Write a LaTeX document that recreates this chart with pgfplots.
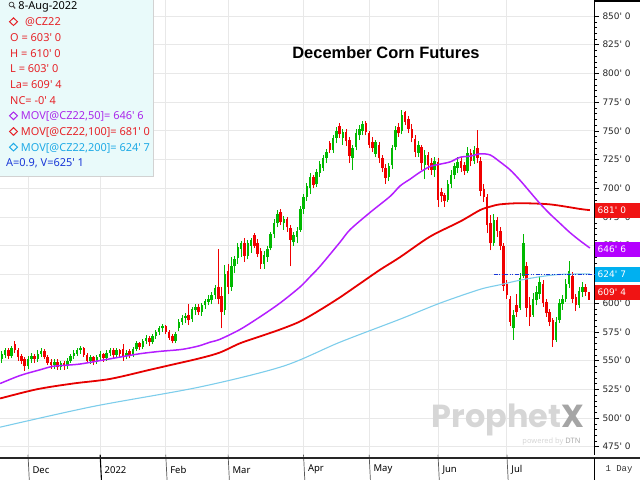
\documentclass[border=0pt]{standalone}
\usepackage{pgfplots}
\usepackage{pgfplotstable}
\pgfplotsset{compat=1.18}
\usepackage{fontspec}
\setmainfont{Noto Sans}
\newfontfamily\dejavu{DejaVu Sans}
\newfontfamily\mono{Liberation Mono}
\newfontfamily\logo{Poppins}
\newfontfamily\titlefont{Liberation Sans}

\definecolor{upc}{RGB}{0,185,0}
\definecolor{dnc}{RGB}{240,0,0}
\definecolor{maA}{RGB}{180,30,255}
\definecolor{maB}{RGB}{230,0,0}
\definecolor{maC}{RGB}{125,205,235}
\definecolor{legbg}{RGB}{233,250,250}
\definecolor{txtred}{RGB}{230,35,40}
\definecolor{txtmag}{RGB}{170,40,235}
\definecolor{txtcyan}{RGB}{30,170,230}
\definecolor{txtblue}{RGB}{25,55,215}
\definecolor{boxred}{RGB}{240,20,20}
\definecolor{boxmag}{RGB}{180,0,255}
\definecolor{boxcyan}{RGB}{0,176,240}
\definecolor{gridc}{RGB}{232,232,232}
\definecolor{wmgray}{RGB}{214,214,214}
\definecolor{wmdark}{RGB}{165,165,165}

\newcommand\q{\textquotesingle}

% daily candles, x = trading day (0 = 1 Dec 2021)
\pgfplotstableread{
d o h l c
-8 551 558 548 556
-7 555 561 552 559
-5 554 563 552 561
0 545 554 543 551
1 551 557 548 554
3 551 559 549 556
4 556 561 553 558
8 546 551 543 549
10 544 550 542 548
12 545 552 543 550
13 550 556 548 554
14 554 559 551 557
15 556 561 554 559
16 559 563 556 561
19 550 555 547 553
21 549 555 547 553
22 553 558 550 556
24 552 559 550 557
25 557 561 554 559
27 555 561 553 559
30 554 559 551 557
32 555 562 553 560
33 560 567 558 565
35 562 569 560 567
36 567 572 564 570
38 566 573 564 571
39 571 577 569 575
40 575 580 572 578
41 578 582 575 580
45 567 575 565 573
46 578 586 576 584
47 584 590 581 587
48 587 591 583 589
50 586 597 584 595
51 594 599 590 597
53 592 600 589 598
54 598 604 595 602
55 601 607 598 604
56 603 610 599 607
57 607 616 604 613
60 594 633 590 625
62 614 640 611 632
63 632 641 626 638
64 639 652 634 649
65 647 654 640 652
67 641 655 638 652
68 650 657 644 655
72 634 645 630 642
73 640 650 636 647
74 648 662 646 660
75 660 673 657 670
76 670 681 666 678
78 670 676 664 673
81 653 662 650 659
82 658 666 652 663
83 664 685 662 682
84 682 695 678 692
85 692 705 689 702
86 700 713 695 710
88 704 717 701 714
89 713 724 710 721
90 718 729 715 726
91 726 734 722 732
93 733 746 731 744
94 744 753 739 750
96 744 752 738 749
99 726 738 716 735
100 736 752 733 748
101 746 755 742 752
102 750 759 746 756
106 730 742 727 740
110 710 722 706 719
111 720 738 717 735
112 736 754 733 751
114 750 768 747 764
119 731 741 727 738
121 720 733 708 729
124 716 727 710 724
128 690 707 688 704
129 704 716 700 712
130 712 722 708 719
131 718 727 713 723
134 715 736 713 731
136 724 737 721 733
142 652 678 650 672
148 578 594 568 590
150 596 626 594 622
151 624 660 622 652
154 590 609 588 604
155 603 615 598 610
156 608 624 604 618
161 568 588 566 584
162 585 604 583 600
163 599 607 594 604
164 604 621 601 617
165 617 637 613 628
168 598 614 596 611
169 610 618 605 614
}\up

\pgfplotstableread{
d o h l c
-6 559 561 551 554
-4 564 567 557 559
-3 559 561 550 553
-2 554 556 547 550
-1 551 553 541 545
2 554 556 548 551
5 558 560 551 553
6 553 555 546 548
7 549 551 543 546
9 549 551 542 544
11 548 550 542 545
17 561 562 553 555
18 555 557 548 550
20 553 554 546 549
23 556 557 549 552
26 559 561 552 555
28 559 560 553 556
29 560 564 550 554
31 558 560 552 555
34 565 566 559 562
37 570 571 563 566
42 580 581 573 575
43 575 577 568 570
44 571 573 565 567
49 590 599 581 585
52 597 599 590 592
58 614 647 599 604
59 606 614 578 592
61 628 634 608 614
66 652 657 636 641
69 659 661 648 650
70 652 656 640 643
71 645 648 630 634
77 679 682 668 671
79 673 675 662 666
80 665 668 632 655
87 710 712 700 703
92 739 741 731 733
95 754 757 744 747
97 749 752 737 741
98 742 745 722 728
103 757 759 746 749
104 748 750 735 738
105 740 745 732 735
107 738 740 722 726
108 726 729 714 718
109 718 721 704 709
113 753 757 745 748
115 766 767 755 758
116 760 763 748 752
117 752 756 740 744
118 743 746 727 732
120 736 738 716 722
122 729 732 716 720
123 722 726 712 716
125 723 726 684 690
126 697 700 688 693
127 694 696 684 689
132 724 727 714 718
133 720 723 712 715
135 731 734 719 724
137 735 751 722 726
138 724 727 693 698
139 699 704 688 692
140 692 695 661 668
141 670 677 646 652
143 672 675 658 663
144 663 666 646 650
145 650 652 611 615
146 617 620 604 607
147 604 606 580 584
149 598 608 588 592
152 632 636 588 596
153 598 605 580 588
157 617 620 597 600
158 601 604 588 591
159 592 595 580 584
160 585 587 562 568
166 624 627 600 604
167 605 608 593 598
170 614 617 606 610
171 603 610 603 609.5
}\down

% moving averages
\pgfplotstableread{
d v
-8.5 530
-2.4 537
3.7 542
7.6 545
11.9 546
15.9 547
22 550
28 553
34.2 556
40.2 558
46.3 559.5
49.4 561
52.4 563
55.5 566
58.5 568.5
64.6 577
70.7 588
76.8 600
82.9 614
86 623
89 632
95.1 653
98.2 664
104.3 679
110.4 693
113.4 702
116.5 708
119.5 714
122.6 719
125.6 721
128.7 723
131.7 727
134.8 728
137.8 730
140.9 729
143.9 723
147 716
150 707
153 697
156 687
159 678
162 670
165 662
168 655
171.3 648
}\movA

\pgfplotstableread{
d v
-8.5 517
2.7 525
13.7 530
25 534
37.2 542
43.3 546
52.4 552
58.5 557
64.6 565
70.7 571
76.8 577
82.9 584
89 594
95.1 605
101.2 617
107.3 629
113.4 640
122.6 658
131.7 671
137.8 681
140.9 684
143.9 686
150 687
159.1 686
168.3 682
171.3 681
}\movB

\pgfplotstableread{
d v
-8.5 492
19.8 510
52.4 527
77.7 545
95.1 566
113.4 586
125.6 600
137.8 612
143.9 616
150 620
156.1 623
162.2 625
171.3 625.5
}\movC

\begin{document}
\begin{tikzpicture}[x=1bp,y=1bp]
\useasboundingbox (0,0) rectangle (640,480);
\begin{axis}[
  at={(0,22)}, anchor=south west,
  width=594bp, height=458bp, scale only axis,
  xmin=-8.54, xmax=172.56, ymin=468, ymax=866.8,
  clip=false,
  axis x line*=bottom, axis y line*=right,
  x axis line style={draw=none},
  y axis line style={-, black, line width=0.7bp},
  xtick={0,22,42,61,84,104,125,146},
  xticklabels={Dec,2022,Feb,Mar,Apr,May,Jun,Jul},
  xtick style={draw=none},
  xticklabel style={anchor=west, font=\fontsize{9.5}{11}\selectfont, xshift=1bp, yshift=-10bp},
  ytick={475,500,...,850},
  minor y tick num=4,
  yticklabel={\pgfmathprintnumber[fixed,precision=0,assume math mode=true]{\tick}\q\ 0},
  yticklabel style={font=\dejavu\fontsize{9}{10}\selectfont, text=black!85},
  tick align=outside,
  major tick length=5bp, minor tick length=3bp,
  ytick style={black, line width=0.6bp},
  minor y tick style={black, line width=0.4bp},
  grid=major,
  major grid style={gridc, line width=0.8bp},
  candle/.style={draw=none, mark=none, forget plot,
    error bars/y dir=plus, error bars/y explicit, error bars/error mark=none},
]
% wicks and bodies
\addplot[candle, error bars/error bar style={draw=upc, line width=0.9bp}]
  table[x=d, y=l, y error plus expr=\thisrow{h}-\thisrow{l}] {\up};
\addplot[candle, error bars/error bar style={draw=upc, line width=2.5bp}]
  table[x=d, y expr={min(\thisrow{o},\thisrow{c})}, y error plus expr={max(abs(\thisrow{c}-\thisrow{o}),0.8)}] {\up};
\addplot[candle, error bars/error bar style={draw=dnc, line width=0.9bp}]
  table[x=d, y=l, y error plus expr=\thisrow{h}-\thisrow{l}] {\down};
\addplot[candle, error bars/error bar style={draw=dnc, line width=2.5bp}]
  table[x=d, y expr={min(\thisrow{o},\thisrow{c})}, y error plus expr={max(abs(\thisrow{c}-\thisrow{o}),0.8)}] {\down};

\addplot[maC, line width=1.1bp, smooth] table[x=d, y=v] {\movC};
\addplot[maB, line width=1.8bp, smooth] table[x=d, y=v] {\movB};
\addplot[maA, line width=1.5bp, smooth] table[x=d, y=v] {\movA};
\addplot[txtblue, line width=1.1bp, dash pattern=on 4bp off 1.5bp on 1bp off 1.5bp on 1bp off 1.5bp]
  coordinates {(142,625.1) (172.56,625.1)};

\pgfplotsinvokeforeach{0,42,61,84,104,125,146}{
  \draw[black!65, line width=0.7bp] (axis cs:#1,468) -- ++(0,-22bp);}
\draw[black, line width=1.1bp] (axis cs:22,468) -- ++(0,-22bp);

\coordinate (v681) at (axis cs:172.56,681);
\coordinate (v646) at (axis cs:172.56,646.75);
\coordinate (v624) at (axis cs:172.56,624.875);
\coordinate (v609) at (axis cs:172.56,609.5);
\end{axis}

% frame pieces
\draw[black!85, line width=2bp] (0,22) -- (640,22);
\draw[black, line width=0.7bp] (594,0) -- (594,22);
\draw[black, line width=2.5bp] (594,478.75) -- (640,478.75);
\node[anchor=west, font=\mono\fontsize{9}{10}\selectfont, text=black!80] at (602,10.5) {1 Day};

% last-value boxes
\tikzset{vbox/.style={anchor=west, text=white, inner xsep=2.5bp, inner ysep=0pt,
  minimum height=15bp, text width=40bp, align=left, font=\dejavu\fontsize{9}{10}\selectfont}}
\node[vbox, fill=boxred] at ([xshift=1bp]v681) {681\q\ 0};
\node[vbox, fill=boxmag] at ([xshift=1bp]v646) {646\q\ 6};
\node[vbox, fill=boxcyan] at ([xshift=1bp]v624) {624\q\ 7};
\node[vbox, fill=boxred] at ([xshift=1bp]v609) {609\q\ 4};

% title
\node[font=\titlefont\bfseries\fontsize{16.5}{19}\selectfont] at (386,427) {December Corn Futures};

% watermark
\node[anchor=base] at (508,52) {\logo\bfseries\fontsize{32}{32}\selectfont\textcolor{wmgray}{Prophet}\textcolor{wmdark}{X}};
\node[anchor=base east, font=\fontsize{7.5}{8}\selectfont] at (584,36) {\textcolor{wmgray}{powered by }\textcolor{wmgray!80!black}{\bfseries DTN}};

% data box
\fill[legbg] (0,480) rectangle (153,304);
\draw[gray!35, line width=0.5bp] (153,480) -- (153,304) -- (0,304);
\draw[black!70, line width=0.8bp] (11.5,475.5) circle (2.4);
\draw[black!70, line width=1.2bp] (13.2,473.8) -- (15.2,471.6);
\tikzset{lt/.style={anchor=base west, inner sep=0pt, font=\fontsize{11}{13}\selectfont}}
\newcommand\dia[2]{\draw[#1, line width=1bp] (13.5,#2) +(-4,0) -- +(0,3.8) -- +(4,0) -- +(0,-3.8) -- cycle;}
\node[lt, text=black] at (18.3,470) {8-Aug-2022};
\dia{txtred}{458.3}
\node[lt, text=txtred] at (25,454.3) {@CZ22};
\node[lt, text=txtred] at (10,438.6) {O = 603\q\ 0};
\node[lt, text=txtred] at (10,422.9) {H = 610\q\ 0};
\node[lt, text=txtred] at (10,407.2) {L = 603\q\ 0};
\node[lt, text=txtred] at (10,391.6) {La= 609\q\ 4};
\node[lt, text=txtred] at (10,375.9) {NC= -0\q\ 4};
\dia{txtmag}{364.2}
\node[lt, text=txtmag] at (20.7,360.2) {MOV[@CZ22,50]= 646\q\ 6};
\dia{txtred}{348.5}
\node[lt, text=txtred] at (20.7,344.5) {MOV[@CZ22,100]= 681\q\ 0};
\dia{txtcyan}{332.8}
\node[lt, text=txtcyan] at (20.7,328.8) {MOV[@CZ22,200]= 624\q\ 7};
\node[lt, text=txtblue] at (6,313.1) {A=0.9, V=625\q\ 1};
\end{tikzpicture}
\end{document}
